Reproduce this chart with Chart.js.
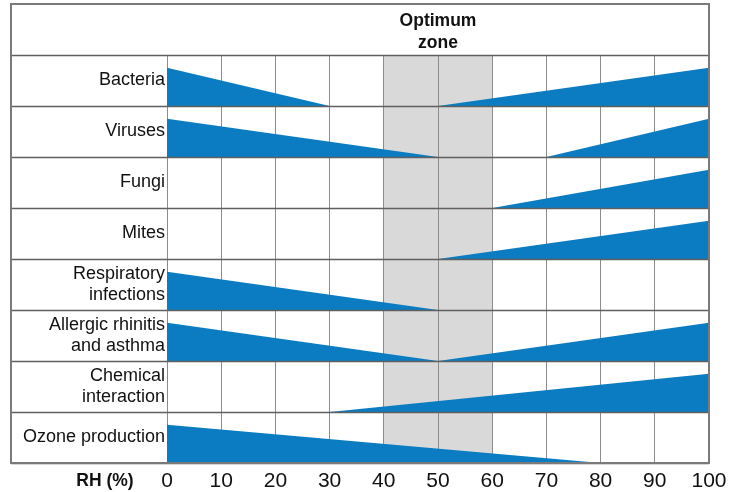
<!DOCTYPE html>
<html>
<head>
<meta charset="utf-8">
<script src="https://cdn.jsdelivr.net/npm/chart.js@4/dist/chart.umd.min.js"></script>
<style>
  html, body { margin: 0; padding: 0; background: #fff; }
  #wrap { width: 729px; height: 492px; }
</style>
</head>
<body>
<div id="wrap"><canvas id="rhChart" width="729" height="492"></canvas></div>
<script>
// rows, top to bottom
var categories = [
  ['Bacteria'],
  ['Viruses'],
  ['Fungi'],
  ['Mites'],
  ['Respiratory', 'infections'],
  ['Allergic rhinitis', 'and asthma'],
  ['Chemical', 'interaction'],
  ['Ozone production']
];
// one entry per wedge: row, RH range, relative level at start/end (0..1)
var wedgeRow   = [0, 0, 1, 1, 2, 3, 4, 5, 5, 6, 7];
var wedgeFrom  = [0, 50, 0, 70, 60, 50, 0, 0, 50, 30, 0];
var wedgeTo    = [30, 100, 50, 100, 100, 100, 50, 50, 100, 100, 80];
var levelFrom  = [1, 0, 1, 0, 0, 0, 1, 1, 0, 0, 1];
var levelTo    = [0, 1, 0, 1, 1, 1, 0, 0, 1, 1, 0];
var rhTicks    = [0, 10, 20, 30, 40, 50, 60, 70, 80, 90, 100];
var optimumZone = [40, 60];

var BLUE = '#0b7cc1';
var WEDGE_H = 0.75;
var FONT = '"Liberation Sans", Arial, sans-serif';

var datasets = wedgeRow.map(function(r, i) {
  var base = r + 1;
  return {
    data: [
      { x: wedgeFrom[i], y: base - levelFrom[i] * WEDGE_H },
      { x: wedgeTo[i], y: base - levelTo[i] * WEDGE_H }
    ],
    borderWidth: 0,
    borderColor: BLUE,
    backgroundColor: BLUE,
    pointRadius: 0,
    tension: 0,
    fill: { value: base }
  };
});

var framePlugin = {
  id: 'frame',
  beforeDraw: function(chart) {
    var c = chart.ctx, a = chart.chartArea, x = chart.scales.x;
    c.save();
    c.fillStyle = '#fff';
    c.fillRect(0, 0, chart.width, chart.height);
    c.fillStyle = '#d9d9d9';
    var x1 = x.getPixelForValue(optimumZone[0]), x2 = x.getPixelForValue(optimumZone[1]);
    c.fillRect(x1, a.top, x2 - x1, a.bottom - a.top);
    c.restore();
  },
  afterDatasetsDraw: function(chart) {
    var c = chart.ctx, a = chart.chartArea, x = chart.scales.x, y = chart.scales.y;
    var left = 11, top = 4;
    c.save();
    c.strokeStyle = '#5f5f5f';
    c.lineWidth = 1.5;
    for (var i = 0; i <= categories.length; i++) {
      var py = Math.round(y.getPixelForValue(i)) + 0.5;
      c.beginPath(); c.moveTo(left, py); c.lineTo(a.right, py); c.stroke();
    }
    c.strokeStyle = '#7a7a7a';
    c.lineWidth = 2;
    c.strokeRect(left, top, a.right - left, a.bottom - top);
    // header
    c.fillStyle = '#111';
    c.font = 'bold 17.5px ' + FONT;
    c.textAlign = 'center';
    c.textBaseline = 'middle';
    var cx = x.getPixelForValue((optimumZone[0] + optimumZone[1]) / 2);
    c.fillText('Optimum', cx, 21);
    c.fillText('zone', cx, 43);
    c.fillText('RH (%)', 105, 481);
    c.restore();
  }
};

new Chart(document.getElementById('rhChart'), {
  type: 'line',
  data: { datasets: datasets },
  plugins: [framePlugin],
  options: {
    responsive: false,
    animation: false,
    events: [],
    layout: { padding: { left: 0, right: 20, top: 55, bottom: 0 } },
    plugins: { legend: { display: false }, tooltip: { enabled: false } },
    scales: {
      x: {
        type: 'linear',
        min: 0,
        max: 100,
        afterBuildTicks: function(s) { s.ticks = rhTicks.map(function(v) { return { value: v }; }); },
        afterFit: function(s) { s.height = 29; s.paddingRight = 0; s.paddingLeft = 0; },
        grid: { color: '#8c8c8c', lineWidth: 1, drawTicks: false },
        border: { display: false },
        ticks: { color: '#111', padding: 6, maxRotation: 0, font: { family: FONT, size: 21 } }
      },
      y: {
        type: 'linear',
        reverse: true,
        min: 0,
        max: categories.length,
        afterBuildTicks: function(s) { s.ticks = categories.map(function(c, i) { return { value: i + 0.5 }; }); },
        afterFit: function(s) { s.width = 167; },
        grid: { display: false, drawTicks: false },
        border: { display: false },
        ticks: {
          color: '#111',
          padding: 2,
          font: { family: FONT, size: 18, lineHeight: 1.2 },
          callback: function(v) { return categories[Math.floor(v)]; }
        }
      }
    }
  }
});
</script>
</body>
</html>
